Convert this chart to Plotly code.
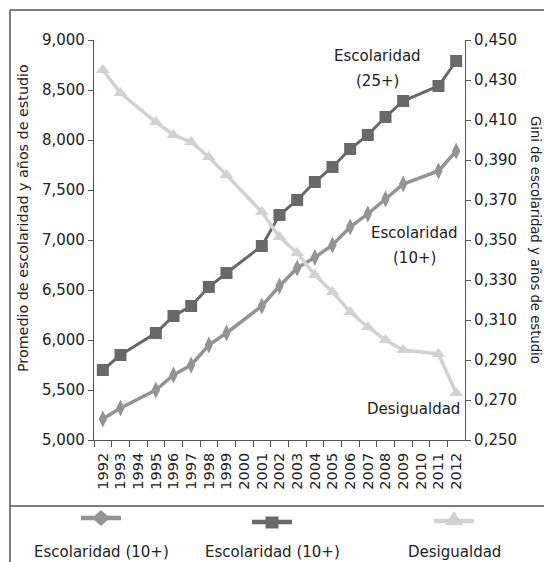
import plotly.graph_objects as go

# ---------------- data ----------------
all_years = [str(y) for y in range(1992, 2013)]
years = ["1992", "1993", "1995", "1996", "1997", "1998", "1999", "2001", "2002", "2003",
         "2004", "2005", "2006", "2007", "2008", "2009", "2011", "2012"]
esc_25 = [5700, 5850, 6070, 6240, 6340, 6530, 6670, 6940, 7250, 7400,
          7580, 7730, 7910, 8050, 8230, 8390, 8540, 8790]
esc_10 = [5210, 5320, 5500, 5650, 5750, 5950, 6070, 6340, 6540, 6720,
          6825, 6950, 7130, 7260, 7410, 7560, 7690, 7890]
gini = [0.435, 0.4235, 0.409, 0.4025, 0.399, 0.3915, 0.3825, 0.364, 0.3515, 0.3435,
        0.3325, 0.324, 0.314, 0.3065, 0.300, 0.295, 0.293, 0.2735]
left_tickvals = [5000, 5500, 6000, 6500, 7000, 7500, 8000, 8500, 9000]
left_ticktext = ["5,000", "5,500", "6,000", "6,500", "7,000", "7,500", "8,000", "8,500", "9,000"]
right_tickvals = [0.25, 0.27, 0.29, 0.31, 0.33, 0.35, 0.37, 0.39, 0.41, 0.43, 0.45]
right_ticktext = ["0,250", "0,270", "0,290", "0,310", "0,330", "0,350", "0,370", "0,390",
                  "0,410", "0,430", "0,450"]
legend_labels = ["Escolaridad (10+)", "Escolaridad (10+)", "Desigualdad"]

# ---------------- style ----------------
W, H = 544, 562
C_DARK = "#69696c"
C_MED = "#949496"
C_LIGHT = "#d2d2d2"
FONT = "DejaVu Sans"
TXT = "#222222"
AX = "#555555"


def px(x):
    return x / W


def py(y):
    return 1 - y / H


fig = go.Figure()
fig.add_trace(go.Scatter(x=years, y=esc_10, mode="lines+markers", yaxis="y",
                         line=dict(color=C_MED, width=3.5),
                         marker=dict(symbol="diamond-tall", size=12, color=C_MED),
                         showlegend=False))
fig.add_trace(go.Scatter(x=years, y=esc_25, mode="lines+markers", yaxis="y",
                         line=dict(color=C_DARK, width=3),
                         marker=dict(symbol="square", size=12, color=C_DARK),
                         showlegend=False))
fig.add_trace(go.Scatter(x=years, y=gini, mode="lines+markers", yaxis="y2",
                         line=dict(color=C_LIGHT, width=3.5),
                         marker=dict(symbol="triangle-up", size=12, color=C_LIGHT),
                         showlegend=False))

shapes = []
# outer frame and legend separator
shapes.append(dict(type="line", xref="paper", yref="paper", x0=px(10), x1=px(10), y0=py(562), y1=py(10),
                   line=dict(color=AX, width=1.5)))
shapes.append(dict(type="line", xref="paper", yref="paper", x0=px(10), x1=px(544), y0=py(10), y1=py(10),
                   line=dict(color=AX, width=1.5)))
shapes.append(dict(type="line", xref="paper", yref="paper", x0=px(10), x1=px(544), y0=py(506), y1=py(506),
                   line=dict(color=AX, width=1.5)))

# legend swatches
leg_x = [101, 272, 454]
leg_y = [518, 522, 521]
leg_col = [C_MED, C_DARK, C_LIGHT]
for cx, cy, col in zip(leg_x, leg_y, leg_col):
    shapes.append(dict(type="line", xref="paper", yref="paper", x0=px(cx - 20), x1=px(cx + 20),
                       y0=py(cy), y1=py(cy), line=dict(color=col, width=4.5)))


def path(points):
    return "M " + " L ".join(f"{px(a):.5f},{py(b):.5f}" for a, b in points) + " Z"


# diamond
cx, cy = leg_x[0], leg_y[0]
shapes.append(dict(type="path", xref="paper", yref="paper",
                   path=path([(cx, cy - 8), (cx + 9, cy), (cx, cy + 8), (cx - 9, cy)]),
                   fillcolor=C_MED, line=dict(width=0)))
# square
cx, cy = leg_x[1], leg_y[1]
shapes.append(dict(type="path", xref="paper", yref="paper",
                   path=path([(cx - 6.5, cy - 5.5), (cx + 6.5, cy - 5.5), (cx + 6.5, cy + 6.5), (cx - 6.5, cy + 6.5)]),
                   fillcolor=C_DARK, line=dict(width=0)))
# triangle
cx, cy = leg_x[2], leg_y[2]
shapes.append(dict(type="path", xref="paper", yref="paper",
                   path=path([(cx, cy - 10), (cx + 9, cy + 4), (cx - 9, cy + 4)]),
                   fillcolor=C_LIGHT, line=dict(width=0)))

annotations = []


def ann(text, x, y, size=15, angle=0):
    annotations.append(dict(text=text, x=px(x), y=py(y), xref="paper", yref="paper",
                            showarrow=False, xanchor="center", yanchor="middle",
                            textangle=angle, font=dict(family=FONT, size=size, color=TXT)))


ann("Escolaridad", 377, 56)
ann("(25+)", 377, 81)
ann("Escolaridad", 414, 233)
ann("(10+)", 414, 258)
ann("Desigualdad", 413, 409)
for lx, lab in zip(leg_x, legend_labels):
    ann(lab, lx, 552)
ann("Promedio de escolaridad y años de estudio", 23, 218, size=14.3, angle=-90)
ann("Gini de escolaridad y años de estudio", 535, 240, size=13.2, angle=90)

fig.update_layout(
    width=W, height=H,
    margin=dict(l=0, r=0, t=0, b=0, autoexpand=False),
    paper_bgcolor="white", plot_bgcolor="white",
    font=dict(family=FONT, color=TXT),
    showlegend=False,
    shapes=shapes,
    annotations=annotations,
    xaxis=dict(domain=[px(94), px(465)], type="category", categoryorder="array",
               categoryarray=all_years, range=[-0.5, 20.5], automargin=False,
               showline=True, linecolor=AX, linewidth=1.2, showgrid=False, zeroline=False,
               ticks="outside", tickson="boundaries", ticklen=6, tickcolor=AX,
               ticklabelstandoff=6,
               tickangle=-90, tickfont=dict(family=FONT, size=14.5, color=TXT)),
    yaxis=dict(domain=[py(440), py(40)], range=[5000, 9000], automargin=False,
               tickvals=left_tickvals, ticktext=left_ticktext,
               showline=True, linecolor=AX, linewidth=1.2, showgrid=False, zeroline=False,
               ticks="outside", ticklen=5, tickcolor=AX,
               tickfont=dict(family=FONT, size=15, color=TXT)),
    yaxis2=dict(overlaying="y", side="right", anchor="x", range=[0.25, 0.45], automargin=False,
                tickvals=right_tickvals, ticktext=right_ticktext,
                showline=True, linecolor=AX, linewidth=1.2, showgrid=False, zeroline=False,
                ticks="outside", ticklen=5, tickcolor=AX,
                tickfont=dict(family=FONT, size=15, color=TXT)),
)

fig.write_html("out.html")
